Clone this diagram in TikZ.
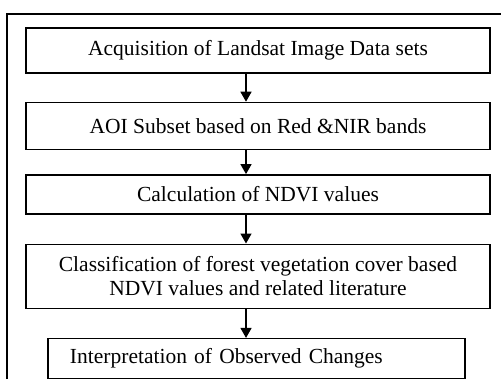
\documentclass[tikz,border=0pt]{standalone}
\usepackage{fontspec}
\setmainfont{Liberation Serif}
\usepackage{tikz}
\usetikzlibrary{arrows.meta,positioning}
\tikzstyle{block} = [rectangle, draw, line width=1.4bp, text centered, minimum width=464bp, inner sep=0pt, font=\fontsize{21.5bp}{24bp}\selectfont]
\tikzstyle{line} = [draw, line width=1.4bp, -{Triangle[width=11bp,length=10bp]}]

\begin{document}
\begin{tikzpicture}[x=1bp, y=-1bp, node distance=28bp]
    \useasboundingbox (0,0) rectangle (501,379);
    % frame
    \draw[line width=2.3bp] (7,379) -- (7,14) -- (501,14);

    % steps
    \node[block, minimum height=45bp] (acq) at (258,50.5) {Acquisition of Landsat Image Data sets};
    \node[block, minimum height=47bp, below=28bp of acq] (aoi) {AOI Subset based on Red \&NIR bands};
    \node[block, minimum height=39bp, below=24bp of aoi] (ndvi) {Calculation of NDVI values};
    \node[block, minimum height=64bp, below=29bp of ndvi, align=center] (class) {Classification of forest vegetation cover based\\NDVI values and related literature};
    \node[block, minimum width=417bp, minimum height=40bp, text width=373bp, align=left, below=29bp of class, xshift=-1.5bp] (interp) {Interpretation of Observed Changes};

    % arrows
    \draw[line] ([xshift=-12bp]acq.south) -- ([xshift=-12bp]aoi.north);
    \draw[line] ([xshift=-12bp]aoi.south) -- ([xshift=-12bp]ndvi.north);
    \draw[line] ([xshift=-12bp]ndvi.south) -- ([xshift=-12bp]class.north);
    \draw[line] ([xshift=-12bp]class.south) -- ([xshift=-12bp]class.south |- interp.north);
\end{tikzpicture}
\end{document}
